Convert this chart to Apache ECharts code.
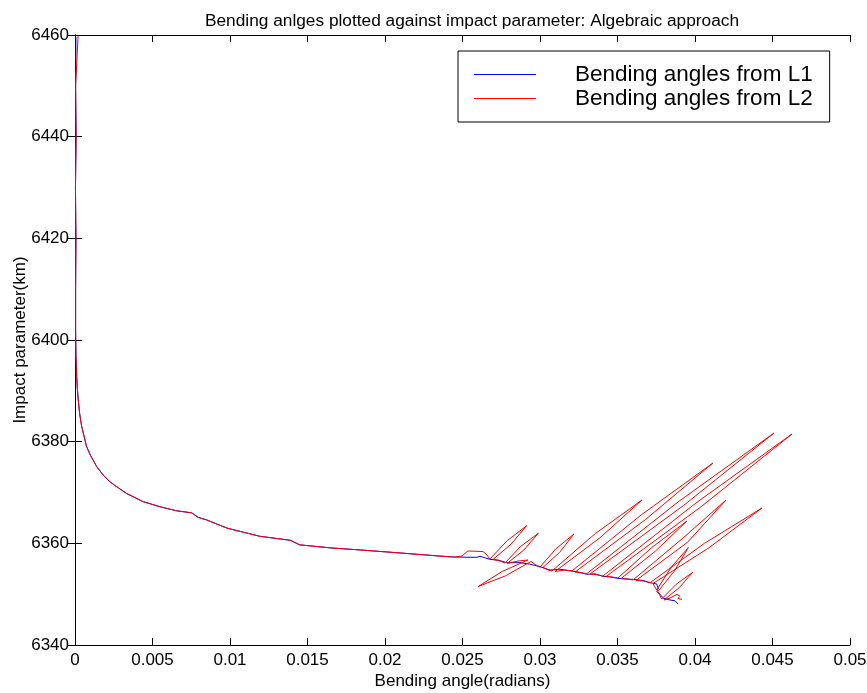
<!DOCTYPE html>
<html>
<head>
<meta charset="utf-8">
<title>Bending angles vs impact parameter</title>
<script src="https://cdn.jsdelivr.net/npm/echarts@6/dist/echarts.min.js"></script>
<style>
  html, body { margin: 0; padding: 0; background: #fff; }
  #chart { width: 867px; height: 693px; }
</style>
</head>
<body>
<div id="chart"></div>
<script>
// Axis ticks
const xStep = 0.005;
const xTickLabels = ['0', '0.005', '0.01', '0.015', '0.02', '0.025', '0.03', '0.035', '0.04', '0.045', '0.05'];
const yStep = 20;
const yTickLabels = ['6340', '6360', '6380', '6400', '6420', '6440', '6460'];

// Shared part of both profiles (upper atmosphere down to ~6357 km)
const commonX = [0.00006, 0.00004, 0.00007, 0.00003, 0.00006, 0.00004, 0.00004, 0.00006, 0.00011, 0.00015,
  0.00021, 0.0003, 0.00043, 0.00075, 0.001, 0.0014, 0.0018, 0.00226, 0.0028, 0.00334,
  0.0044, 0.00548, 0.00656, 0.00753, 0.00795, 0.0085, 0.0098, 0.0119, 0.0139, 0.0145,
  0.0165, 0.0184, 0.021, 0.0235, 0.0245];
const commonY = [6459.6, 6450, 6440, 6430, 6420, 6410, 6402, 6397, 6392.8, 6390.5,
  6388.2, 6385.5, 6383, 6379, 6377.3, 6375.1, 6373.5, 6372.1, 6370.9, 6369.8,
  6368.2, 6367.2, 6366.4, 6366.0, 6365.1, 6364.6, 6363.0, 6361.4, 6360.6, 6359.7,
  6359.1, 6358.7, 6358.1, 6357.5, 6357.3];

// Bending angles from L1 (lower troposphere)
const l1X = [0.02592, 0.02613, 0.02677, 0.02731, 0.02785, 0.02871, 0.02935, 0.03, 0.03065, 0.03129,
  0.03194, 0.03258, 0.03301, 0.03355, 0.03408, 0.03452, 0.03503, 0.03555, 0.036, 0.03665,
  0.0371, 0.03753, 0.03763, 0.03753, 0.03774, 0.03795, 0.03839, 0.03871, 0.03892];
const l1Y = [6357.25, 6357.45, 6356.85, 6356.7, 6356.2, 6356.2, 6355.9, 6355.4, 6354.75, 6354.9,
  6354.6, 6354.3, 6353.9, 6354.0, 6353.5, 6353.4, 6353.1, 6353.0, 6352.9, 6352.7,
  6352.25, 6352.0, 6351.1, 6350.5, 6350.0, 6349.2, 6348.85, 6348.7, 6348.05];

// Bending angles from L2 (lower troposphere): each loop runs base -> side -> tip -> side -> base
const l2X = [0.02497, 0.02535, 0.02632, 0.02652,
  0.02677, 0.02788, 0.02914, 0.02813, 0.02697, 0.02742,
  0.02774, 0.02874, 0.02989, 0.02896, 0.02787, 0.02858,
  0.02923, 0.02756, 0.02602, 0.02778, 0.02942, 0.02974,
  0.03, 0.03102, 0.03219, 0.03127, 0.03019, 0.03052,
  0.03077, 0.03357, 0.03658, 0.03387, 0.03097, 0.03161,
  0.03206, 0.03652, 0.04116, 0.03681, 0.03226, 0.03271,
  0.03303, 0.03897, 0.0451, 0.03926, 0.03323, 0.03374,
  0.03406, 0.04006, 0.04626, 0.04035, 0.03426, 0.03465,
  0.03503, 0.03718, 0.03948, 0.03743, 0.03523, 0.03561,
  0.036, 0.03923, 0.042, 0.03952, 0.03619, 0.03665,
  0.0371, 0.04061, 0.04432, 0.0409, 0.03729,
  0.03753, 0.03847, 0.03957, 0.03867, 0.03761,
  0.03785, 0.03879, 0.03985, 0.03899, 0.038,
  0.03839, 0.03884, 0.03903, 0.0389, 0.03916];
const l2Y = [6357.51, 6358.49, 6358.39, 6357.9,
  6356.92, 6360.51, 6363.47, 6359.83, 6356.82, 6356.52,
  6356.13, 6359.37, 6361.97, 6358.69, 6356.03, 6356.52,
  6356.72, 6354.47, 6351.51, 6353.61, 6356.43, 6355.74,
  6355.34, 6358.9, 6361.84, 6358.23, 6355.25, 6354.75,
  6354.56, 6361.93, 6368.52, 6361.1, 6354.46, 6354.75,
  6354.56, 6365.57, 6375.8, 6364.69, 6354.36, 6354.16,
  6354.06, 6368.28, 6381.7, 6367.44, 6353.97, 6353.77,
  6353.57, 6367.93, 6381.51, 6367.1, 6353.47, 6353.38,
  6353.18, 6359.1, 6364.39, 6358.42, 6353.08, 6352.98,
  6352.79, 6361.05, 6368.52, 6360.21, 6352.69, 6352.59,
  6352.25, 6360.0, 6366.95, 6359.13, 6352.09,
  6350.82, 6355.31, 6359.18, 6354.54, 6350.52,
  6349.05, 6351.95, 6354.3, 6351.3, 6348.85,
  6349.24, 6349.97, 6349.58, 6349.18, 6348.95];

const FONT = 'Liberation Sans, Arial, Helvetica, sans-serif';

function pairs(xs, ys) {
  return xs.map((x, i) => [x, ys[i]]);
}
const l1Data = pairs(commonX.concat(l1X), commonY.concat(l1Y));
const l2Data = [[0.0002, 6459.8]].concat(pairs(commonX.slice(1).concat(l2X), commonY.slice(1).concat(l2Y)));

const xLabel = v => xTickLabels[Math.round(v / xStep)];
const yLabel = v => yTickLabels[Math.round((v - 6340) / yStep)];

// Thin horizontal stroke centred in a 62x20 legend cell
const LEGEND_LINE = 'path://M0,0L0.01,0L0,0.01Z M0,9.5L62,9.5L62,10.5L0,10.5Z M62,20L61.99,20L62,19.99Z';

const boxAxis = {
  axisLine: { show: true, lineStyle: { color: '#000', width: 1 } },
  axisTick: { show: true, inside: true, length: 7, lineStyle: { color: '#000' } },
  splitLine: { show: false }
};

const chart = echarts.init(document.getElementById('chart'), null, { renderer: 'canvas' });
chart.setOption({
  animation: false,
  backgroundColor: '#fff',
  title: {
    text: 'Bending anlges plotted against impact parameter: Algebraic approach',
    left: 467, textAlign: 'center', top: 8,
    textStyle: { fontFamily: FONT, fontSize: 17.3, fontWeight: 'normal', color: '#000' }
  },
  legend: {
    orient: 'vertical',
    left: 458, top: 51,
    padding: [12, 17, 12, 16],
    borderColor: '#000', borderWidth: 1,
    backgroundColor: '#fff',
    itemWidth: 62, itemHeight: 20, itemGap: 1,
    textStyle: { fontFamily: FONT, fontSize: 22.5, lineHeight: 22, color: '#000', padding: [0, 0, 0, 34] },
    data: [
      { name: 'Bending angles from L1', icon: LEGEND_LINE },
      { name: 'Bending angles from L2', icon: LEGEND_LINE }
    ]
  },
  grid: { left: 75, right: 17, top: 35, bottom: 48, containLabel: false, outerBoundsMode: 'none' },
  xAxis: [
    Object.assign({
      type: 'value', min: 0, max: 0.05, interval: xStep, position: 'bottom',
      name: 'Bending angle(radians)', nameLocation: 'middle', nameGap: 28, nameMoveOverlap: false,
      nameTextStyle: { fontFamily: FONT, fontSize: 17, color: '#000' },
      axisLabel: { formatter: xLabel, fontFamily: FONT, fontSize: 17, color: '#000', margin: 7 }
    }, boxAxis),
    Object.assign({
      type: 'value', min: 0, max: 0.05, interval: xStep, position: 'top',
      axisLabel: { show: false }
    }, boxAxis)
  ],
  yAxis: [
    Object.assign({
      type: 'value', min: 6340, max: 6460, interval: yStep, position: 'left',
      name: 'Impact parameter(km)', nameLocation: 'middle', nameGap: 46, nameMoveOverlap: false,
      nameTextStyle: { fontFamily: FONT, fontSize: 17, color: '#000' },
      axisLabel: { formatter: yLabel, fontFamily: FONT, fontSize: 17, color: '#000', margin: 6 }
    }, boxAxis),
    Object.assign({
      type: 'value', min: 6340, max: 6460, interval: yStep, position: 'right',
      axisLabel: { show: false }
    }, boxAxis)
  ],
  series: [
    {
      name: 'Bending angles from L1', type: 'line', xAxisIndex: 0, yAxisIndex: 0,
      data: l1Data, symbol: 'none', showSymbol: false,
      lineStyle: { color: '#0000ff', width: 1 }, itemStyle: { color: '#0000ff' }
    },
    {
      name: 'Bending angles from L2', type: 'line', xAxisIndex: 0, yAxisIndex: 0,
      data: l2Data, symbol: 'none', showSymbol: false,
      lineStyle: { color: '#ff0000', width: 1 }, itemStyle: { color: '#ff0000' }
    }
  ]
});
</script>
</body>
</html>
